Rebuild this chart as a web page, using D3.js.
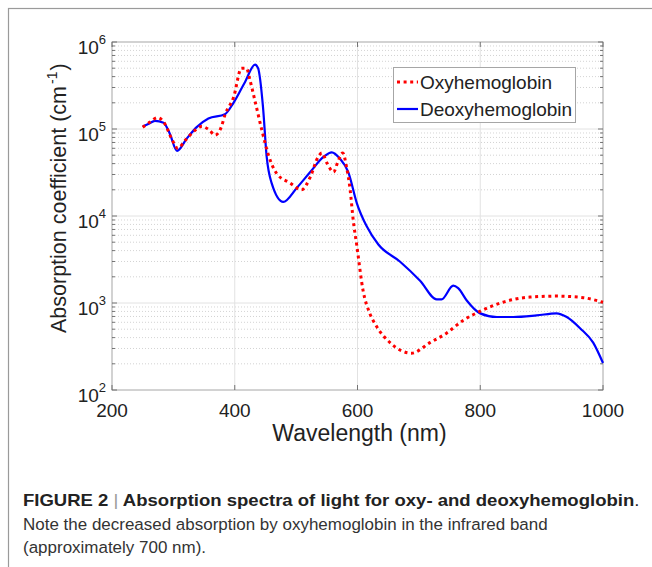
<!DOCTYPE html>
<html>
<head>
<meta charset="utf-8">
<script src="https://cdn.jsdelivr.net/npm/d3@7"></script>
<style>
  body { margin: 0; background: #fff; }
  svg { display: block; font-family: "Liberation Sans", Arial, sans-serif; }
</style>
</head>
<body>
<div id="chart"></div>
<script>
// --- Data ---
const oxyWavelength = [250, 262, 274, 286, 298, 307, 320, 334, 346, 358, 368, 378, 384, 398, 411, 419, 425, 433, 444, 455, 468, 490, 509, 523, 536, 542, 550, 561, 568, 576, 582, 588, 593, 599, 609, 620, 631, 653, 688, 718, 745, 772, 801, 837, 881, 924, 968, 1000];
const oxyValues = [1.05e5, 1.2e5, 1.35e5, 1.15e5, 7.5e4, 6.0e4, 7.5e4, 9.5e4, 1.07e5, 9.8e4, 8.5e4, 1.05e5, 1.45e5, 2.3e5, 5.0e5, 5.0e5, 3.6e5, 2.1e5, 9.8e4, 5.0e4, 3.1e4, 2.4e4, 2.0e4, 2.8e4, 4.8e4, 5.3e4, 4.1e4, 3.2e4, 4.2e4, 5.3e4, 3.7e4, 2.0e4, 9.0e3, 4.5e3, 1.4e3, 760, 540, 350, 265, 350, 450, 630, 810, 1020, 1170, 1200, 1150, 1020];

const deoxyWavelength = [250, 260, 270, 284, 294, 306, 322, 338, 357, 384, 398, 417, 433, 438, 446, 452, 460, 479, 501, 523, 545, 558, 571, 585, 599, 615, 634, 669, 702, 729, 737, 756, 764, 778, 800, 827, 854, 892, 924, 941, 963, 984, 1000];
const deoxyValues = [1.07e5, 1.15e5, 1.24e5, 1.18e5, 8.9e4, 5.6e4, 7.8e4, 1.05e5, 1.32e5, 1.48e5, 2.0e5, 3.5e5, 5.5e5, 5.0e5, 1.8e5, 4.8e4, 2.4e4, 1.45e4, 2.1e4, 3.2e4, 4.8e4, 5.4e4, 4.6e4, 3.2e4, 1.4e4, 7.6e3, 4.7e3, 3.0e3, 1.8e3, 1.1e3, 1.1e3, 1.58e3, 1.48e3, 1.07e3, 760, 690, 690, 720, 760, 690, 510, 350, 204];

const xTicks = [200, 400, 600, 800, 1000];
const yExponents = [2, 3, 4, 5, 6];
const seriesNames = ["Oxyhemoglobin", "Deoxyhemoglobin"];

// --- SVG root ---
const W = 652, H = 567;
const svg = d3.select("#chart").append("svg")
    .attr("width", W)
    .attr("height", H);

svg.append("rect").attr("width", W).attr("height", H).attr("fill", "#fff");

// outer frame (left + top edges visible)
svg.append("rect")
    .attr("x", 8.5).attr("y", 8.5)
    .attr("width", W).attr("height", H)
    .attr("fill", "none")
    .attr("stroke", "#9a9a9a")
    .attr("stroke-width", 1.2);

// --- Scales ---
const plot = { left: 112, right: 603, top: 42, bottom: 390 };
const x = d3.scaleLinear().domain([200, 1000]).range([plot.left, plot.right]);
const y = d3.scaleLog().domain([1e2, 1e6]).range([plot.bottom, plot.top]);

// --- Grid ---
const minorVals = [];
for (let e = 2; e < 6; e++) {
    for (let m = 2; m <= 9; m++) minorVals.push(m * Math.pow(10, e));
}
const majorVals = yExponents.map(e => Math.pow(10, e));

const grid = svg.append("g");
grid.selectAll(".minor")
    .data(minorVals)
    .join("line")
    .attr("x1", plot.left).attr("x2", plot.right)
    .attr("y1", d => y(d)).attr("y2", d => y(d))
    .attr("stroke", "#c8c8c8")
    .attr("stroke-width", 0.8)
    .attr("stroke-dasharray", "1,2");

grid.selectAll(".majorY")
    .data(majorVals.slice(1, -1))
    .join("line")
    .attr("x1", plot.left).attr("x2", plot.right)
    .attr("y1", d => y(d)).attr("y2", d => y(d))
    .attr("stroke", "#e2e2e2")
    .attr("stroke-width", 1);

grid.selectAll(".majorX")
    .data(xTicks.slice(1, -1))
    .join("line")
    .attr("x1", d => x(d)).attr("x2", d => x(d))
    .attr("y1", plot.top).attr("y2", plot.bottom)
    .attr("stroke", "#e2e2e2")
    .attr("stroke-width", 1);

// --- Box + ticks ---
svg.append("rect")
    .attr("x", plot.left).attr("y", plot.top)
    .attr("width", plot.right - plot.left)
    .attr("height", plot.bottom - plot.top)
    .attr("fill", "none")
    .attr("stroke", "#a6a6a6")
    .attr("stroke-width", 1);

const ticks = svg.append("g").attr("stroke", "#666").attr("stroke-width", 0.9);
// y ticks, both sides, inward
[plot.left, plot.right].forEach(side => {
    const dir = side === plot.left ? 1 : -1;
    ticks.selectAll(null).data(majorVals).join("line")
        .attr("x1", side).attr("x2", side + dir * 5)
        .attr("y1", d => y(d)).attr("y2", d => y(d));
    ticks.selectAll(null).data(minorVals).join("line")
        .attr("x1", side).attr("x2", side + dir * 3)
        .attr("y1", d => y(d)).attr("y2", d => y(d));
});
// x ticks, bottom + top, inward
[plot.bottom, plot.top].forEach(side => {
    const dir = side === plot.bottom ? -1 : 1;
    ticks.selectAll(null).data(xTicks).join("line")
        .attr("x1", d => x(d)).attr("x2", d => x(d))
        .attr("y1", side).attr("y2", side + dir * 5);
});

// --- Tick labels ---
svg.append("g").selectAll("text")
    .data(xTicks)
    .join("text")
    .attr("x", d => x(d))
    .attr("y", plot.bottom + 27)
    .attr("text-anchor", "middle")
    .attr("font-size", 19)
    .attr("fill", "#222")
    .text(d => d);

const yLabels = svg.append("g").selectAll("text")
    .data(yExponents)
    .join("text")
    .attr("x", plot.left - 6)
    .attr("y", d => y(Math.pow(10, d)) + 11.5)
    .attr("text-anchor", "end")
    .attr("font-size", 19)
    .attr("fill", "#222");
yLabels.append("tspan").text("10");
yLabels.append("tspan")
    .attr("dy", -10)
    .attr("font-size", 13)
    .text(d => d);

// --- Axis titles ---
svg.append("text")
    .attr("x", (plot.left + plot.right) / 2 + 2)
    .attr("y", 441)
    .attr("text-anchor", "middle")
    .attr("font-size", 23)
    .attr("fill", "#222")
    .text("Wavelength (nm)");

const yTitle = svg.append("text")
    .attr("transform", "translate(66,333) rotate(-90)")
    .attr("text-anchor", "start")
    .attr("font-size", 21.5)
    .attr("fill", "#222");
yTitle.append("tspan").text("Absorption coefficient (cm");
yTitle.append("tspan").attr("dy", -9).attr("dx", 2).attr("font-size", 14).text("-1");
yTitle.append("tspan").attr("dy", 9).attr("dx", 1).text(")");

// --- Lines ---
const line = d3.line()
    .x(d => x(d[0]))
    .y(d => y(d[1]))
    .curve(d3.curveMonotoneX);

const plotArea = svg.append("g");
plotArea.append("path")
    .datum(deoxyWavelength.map((w, i) => [w, deoxyValues[i]]))
    .attr("d", line)
    .attr("fill", "none")
    .attr("stroke", "#0000ff")
    .attr("stroke-width", 2.2)
    .attr("stroke-linejoin", "round");

plotArea.append("path")
    .datum(oxyWavelength.map((w, i) => [w, oxyValues[i]]))
    .attr("d", line)
    .attr("fill", "none")
    .attr("stroke", "#ff0000")
    .attr("stroke-width", 3)
    .attr("stroke-dasharray", "3,3.6");

// --- Legend ---
const legend = svg.append("g");
legend.append("rect")
    .attr("x", 393.5).attr("y", 67.5)
    .attr("width", 182).attr("height", 55)
    .attr("fill", "#fff")
    .attr("stroke", "#a6a6a6");

const legendStyles = [
    { color: "#ff0000", width: 3, dash: "3,3.6" },
    { color: "#0000ff", width: 2.2, dash: null }
];
seriesNames.forEach((name, i) => {
    const cy = 82 + i * 27;
    legend.append("line")
        .attr("x1", 397).attr("x2", 418)
        .attr("y1", cy).attr("y2", cy)
        .attr("stroke", legendStyles[i].color)
        .attr("stroke-width", legendStyles[i].width)
        .attr("stroke-dasharray", legendStyles[i].dash);
    legend.append("text")
        .attr("x", 420)
        .attr("y", cy + 7)
        .attr("font-size", 19)
        .attr("fill", "#222")
        .text(name);
});

// --- Caption (squeezed horizontally to match the narrow journal font) ---
const cap = svg.append("g").attr("fill", "#222");
const cap1 = cap.append("text")
    .attr("x", 0).attr("y", 0)
    .attr("font-size", 16.5);
cap1.append("tspan").attr("font-weight", "bold").text("FIGURE 2 ");
cap1.append("tspan").attr("fill", "#999").attr("font-weight", "normal").text("|");
cap1.append("tspan").attr("font-weight", "bold").text(" Absorption spectra of light for oxy- and deoxyhemoglobin");
cap1.append("tspan").text(".");
const sx1 = 617 / cap1.node().getComputedTextLength();
cap1.attr("transform", `translate(23,506) scale(${sx1},1)`);

const cap2 = cap.append("text")
    .attr("font-size", 16.5)
    .attr("fill", "#333")
    .text("Note the decreased absorption by oxyhemoglobin in the infrared band");
const sx2 = 525 / cap2.node().getComputedTextLength();
cap2.attr("transform", `translate(23,530) scale(${sx2},1)`);

cap.append("text")
    .attr("font-size", 16.5)
    .attr("fill", "#333")
    .attr("transform", `translate(23,553) scale(${sx2},1)`)
    .text("(approximately 700 nm).");
</script>
</body>
</html>
